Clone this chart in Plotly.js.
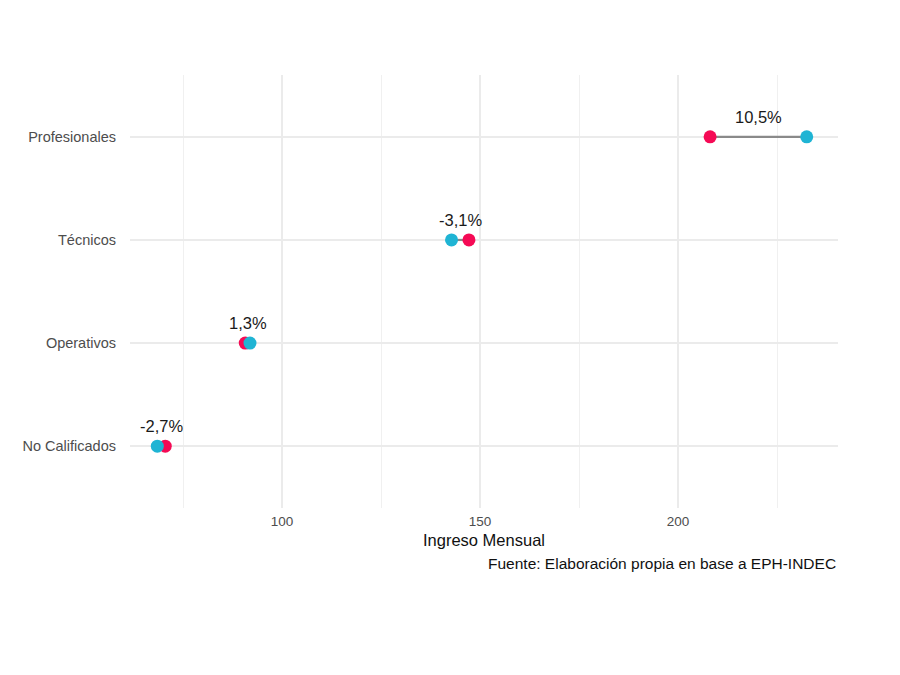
<!DOCTYPE html>
<html>
<head>
<meta charset="utf-8">
<script src="https://cdn.plot.ly/plotly-3.0.1.min.js"></script>
<style>html,body{margin:0;padding:0;background:#fff;}#chart{width:900px;height:675px;}</style>
</head>
<body>
<div id="chart"></div>
<script>
const categories = ["Profesionales", "Técnicos", "Operativos", "No Calificados"];
const ingresoInicial = [208.1, 147.2, 90.7, 70.5];
const ingresoFinal = [232.5, 142.8, 91.9, 68.5];
const variacion = ["10,5%", "-3,1%", "1,3%", "-2,7%"];
const categoryOrder = ["No Calificados", "Operativos", "Técnicos", "Profesionales"];

const traces = [];
categories.forEach((c, i) => {
  traces.push({
    x: [ingresoInicial[i], ingresoFinal[i]],
    y: [c, c],
    mode: 'lines',
    line: {color: '#8a8a8a', width: 2.2},
    hoverinfo: 'skip',
    showlegend: false
  });
});
traces.push({
  x: ingresoInicial, y: categories, mode: 'markers', type: 'scatter',
  marker: {color: '#f50a55', size: 13},
  showlegend: false
});
traces.push({
  x: ingresoFinal, y: categories, mode: 'markers', type: 'scatter',
  marker: {color: '#1fb4d4', size: 13},
  showlegend: false
});

const annotations = categories.map((c, i) => ({
  x: (ingresoInicial[i] + ingresoFinal[i]) / 2,
  y: c,
  xref: 'x', yref: 'y',
  text: variacion[i],
  showarrow: false,
  yshift: 20,
  font: {family: 'Liberation Sans, Arial, sans-serif', size: 16.5, color: '#1a1a1a'}
}));
annotations.push({
  x: 1, y: -0.129, xref: 'paper', yref: 'paper',
  xanchor: 'right', yanchor: 'middle',
  text: 'Fuente: Elaboración propia en base a EPH-INDEC',
  showarrow: false,
  font: {family: 'Liberation Sans, Arial, sans-serif', size: 15.5, color: '#111'}
});

const layout = {
  width: 900, height: 675,
  margin: {l: 130, r: 62, t: 75, b: 167},
  paper_bgcolor: '#fff', plot_bgcolor: '#fff',
  font: {family: 'Liberation Sans, Arial, sans-serif'},
  xaxis: {
    range: [61.6, 240.4],
    tickvals: [100, 150, 200],
    ticktext: ['100', '150', '200'],
    showgrid: true, gridcolor: '#ebebeb', gridwidth: 1.3,
    minor: {tickvals: [75, 125, 175, 225], showgrid: true, gridcolor: '#f0f0f0', gridwidth: 1, ticks: ''},
    zeroline: false, showline: false, ticks: '',
    ticklabelstandoff: 3,
    tickfont: {size: 13.5, color: '#4d4d4d'},
    title: {text: 'Ingreso Mensual', font: {size: 16.5, color: '#111'}, standoff: 6}
  },
  yaxis: {
    type: 'category',
    categoryorder: 'array', categoryarray: categoryOrder,
    range: [-0.6, 3.6],
    showgrid: true, gridcolor: '#ebebeb', gridwidth: 1.3,
    zeroline: false, showline: false, ticks: '',
    ticklabelstandoff: 13,
    tickfont: {size: 14.5, color: '#4d4d4d'}
  },
  annotations: annotations
};

Plotly.newPlot('chart', traces, layout, {displayModeBar: false, staticPlot: true});
</script>
</body>
</html>
